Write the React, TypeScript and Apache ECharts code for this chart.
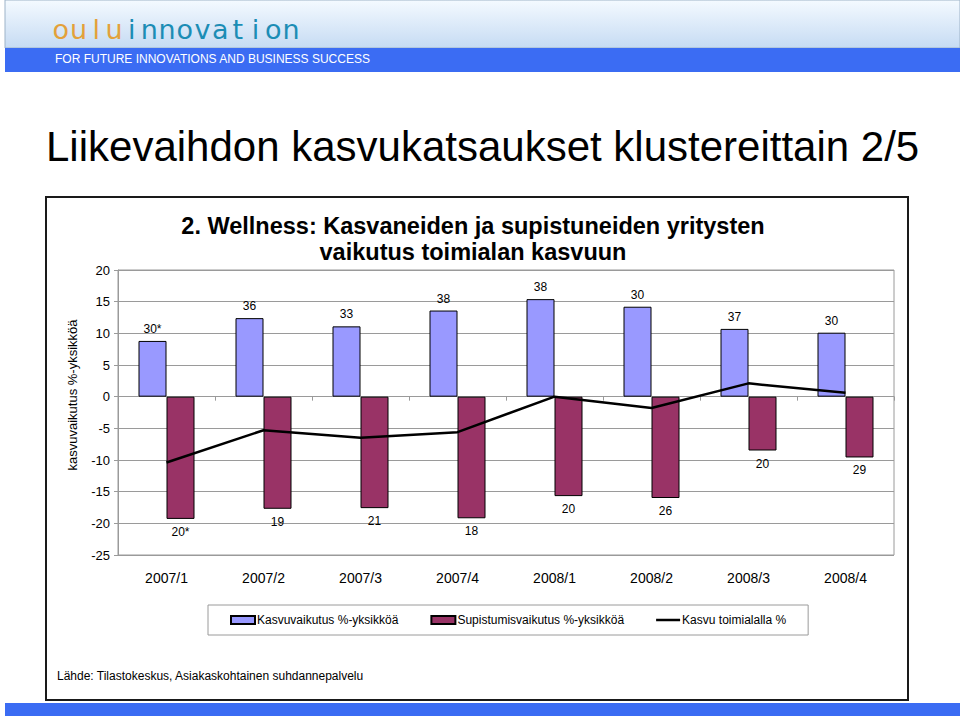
import React, { useEffect, useRef } from "react";
import * as echarts from "echarts";

const categories = ["2007/1", "2007/2", "2007/3", "2007/4", "2008/1", "2008/2", "2008/3", "2008/4"];
const kasvuvaikutus = [8.8, 12.4, 11.1, 13.6, 15.4, 14.2, 10.7, 10.1];
const kasvuLabels = ["30*", "36", "33", "38", "38", "30", "37", "30"];
const supistumisvaikutus = [-19.3, -17.7, -17.6, -19.2, -15.7, -16.0, -8.5, -9.6];
const supistumisLabels = ["20*", "19", "21", "18", "20", "26", "20", "29"];
const kasvuToimialalla = [-10.4, -5.3, -6.5, -5.6, 0.0, -1.8, 2.1, 0.6];
const yTicks = { min: -25, max: 20, interval: 5 };

const FONT = "Liberation Sans, Arial, sans-serif";
const logoChars = "ouluinnovation".split("");

export default function App() {
  const ref = useRef<HTMLDivElement>(null);
  useEffect(() => {
    if (!ref.current) return;
    const chart = echarts.init(ref.current, undefined, { renderer: "svg" });
    const logoEls = logoChars.map((c, i) => ({
      type: "text",
      x: 52 + 17.7 * i + 8.85,
      y: 29,
      style: {
        text: c,
        fill: i < 4 ? "#e3a13a" : "#1c8db5",
        font: `27px "DejaVu Sans", sans-serif`,
        textAlign: "center",
        textVerticalAlign: "middle",
      },
    }));
    chart.setOption({
      animation: false,
      backgroundColor: "#ffffff",
      textStyle: { fontFamily: FONT },
      graphic: [
        {
          type: "rect",
          shape: { x: 5, y: 0, width: 955, height: 48 },
          style: {
            fill: new echarts.graphic.LinearGradient(0, 0, 0, 1, [
              { offset: 0, color: "#f4faff" },
              { offset: 1, color: "#c6dbf3" },
            ]),
            stroke: "#9db3c8",
            lineWidth: 1,
          },
        },
        {
          type: "rect",
          shape: { x: 5, y: 48, width: 955, height: 24 },
          style: { fill: "#3b6cf3" },
        },
        ...logoEls,
        {
          type: "text",
          x: 55,
          y: 59,
          style: {
            text: "FOR FUTURE INNOVATIONS AND BUSINESS SUCCESS",
            fill: "#ffffff",
            font: `12px ${FONT}`,
            textVerticalAlign: "middle",
          },
        },
        {
          type: "text",
          x: 46,
          y: 146,
          style: {
            text: "Liikevaihdon kasvukatsaukset klustereittain 2/5",
            fill: "#000000",
            font: `42px ${FONT}`,
            textVerticalAlign: "middle",
          },
        },
        {
          type: "rect",
          shape: { x: 46, y: 197, width: 862, height: 503 },
          style: { fill: "none", stroke: "#1a1a1a", lineWidth: 2 },
        },
        {
          type: "text",
          x: 473,
          y: 226,
          style: {
            text: "2. Wellness: Kasvaneiden ja supistuneiden yritysten",
            fill: "#000",
            font: `bold 23.5px ${FONT}`,
            textAlign: "center",
            textVerticalAlign: "middle",
          },
        },
        {
          type: "text",
          x: 473,
          y: 252,
          style: {
            text: "vaikutus toimialan kasvuun",
            fill: "#000",
            font: `bold 23.5px ${FONT}`,
            textAlign: "center",
            textVerticalAlign: "middle",
          },
        },
        {
          type: "text",
          x: 72,
          y: 395,
          rotation: Math.PI / 2,
          style: {
            text: "kasvuvaikutus %-yksikköä",
            fill: "#000",
            font: `13px ${FONT}`,
            textAlign: "center",
            textVerticalAlign: "middle",
          },
        },
        {
          type: "text",
          x: 57,
          y: 676,
          style: {
            text: "Lähde: Tilastokeskus, Asiakaskohtainen suhdannepalvelu",
            fill: "#000",
            font: `12px ${FONT}`,
            textVerticalAlign: "middle",
          },
        },
        {
          type: "rect",
          shape: { x: 5, y: 703, width: 955, height: 13 },
          style: { fill: "#3b6cf3" },
        },
      ],
      grid: {
        left: 118,
        right: 66,
        top: 270,
        bottom: 161,
        show: true,
        borderColor: "#9a9a9a",
        borderWidth: 1,
        backgroundColor: "transparent",
      },
      legend: {
        left: 208,
        top: 605,
        padding: [9, 22],
        itemGap: 32,
        itemWidth: 24,
        itemHeight: 8,
        borderColor: "#9a9a9a",
        borderWidth: 1,
        textStyle: { fontSize: 12, color: "#000", fontFamily: FONT, padding: [0, 0, 0, -3] },
        data: [
          { name: "Kasvuvaikutus %-yksikköä", icon: "rect" },
          { name: "Supistumisvaikutus %-yksikköä", icon: "rect" },
          {
            name: "Kasvu toimialalla %",
            icon: "path://M0,0 L24,0 L24,2.5 L0,2.5 Z",
            itemStyle: { color: "#000", borderWidth: 0 },
          },
        ],
      },
      xAxis: [
        {
          type: "category",
          data: categories,
          position: "bottom",
          axisLine: { onZero: true, lineStyle: { color: "#9a9a9a", width: 1 } },
          axisTick: { show: true, length: 4, lineStyle: { color: "#9a9a9a" } },
          axisLabel: { show: false },
          splitLine: { show: false },
        },
        {
          type: "category",
          data: categories,
          position: "bottom",
          axisLine: { show: false, onZero: false },
          axisTick: { show: false },
          axisLabel: { show: true, margin: 16, fontSize: 14, color: "#000", fontFamily: FONT },
          splitLine: { show: false },
        },
      ],
      yAxis: {
        type: "value",
        min: yTicks.min,
        max: yTicks.max,
        interval: yTicks.interval,
        axisLine: { show: true, onZero: false, lineStyle: { color: "#9a9a9a" } },
        axisTick: { show: true, length: 4, lineStyle: { color: "#9a9a9a" } },
        axisLabel: { fontSize: 13, color: "#000", margin: 8, fontFamily: FONT },
        splitLine: { show: true, lineStyle: { color: "#9a9a9a", width: 1 } },
      },
      series: [
        {
          name: "Kasvuvaikutus %-yksikköä",
          type: "bar",
          xAxisIndex: 0,
          data: kasvuvaikutus,
          barWidth: 28,
          barGap: "0%",
          itemStyle: { color: "#9999ff", borderColor: "#000", borderWidth: 1 },
          label: {
            show: true,
            position: "top",
            distance: 6,
            fontSize: 12,
            color: "#000",
            fontFamily: FONT,
            formatter: (p: any) => kasvuLabels[p.dataIndex],
          },
        },
        {
          name: "Supistumisvaikutus %-yksikköä",
          type: "bar",
          xAxisIndex: 0,
          data: supistumisvaikutus,
          barWidth: 28,
          barGap: "0%",
          itemStyle: { color: "#993366", borderColor: "#000", borderWidth: 1 },
          label: {
            show: true,
            position: "bottom",
            distance: 7,
            fontSize: 12,
            color: "#000",
            fontFamily: FONT,
            formatter: (p: any) => supistumisLabels[p.dataIndex],
          },
        },
        {
          name: "Kasvu toimialalla %",
          type: "line",
          xAxisIndex: 0,
          data: kasvuToimialalla,
          symbol: "none",
          z: 5,
          lineStyle: { color: "#000", width: 2.5 },
          itemStyle: { color: "#000" },
        },
      ],
    });
    return () => chart.dispose();
  }, []);
  return (
    <div
      ref={ref}
      style={{ position: "fixed", left: 0, top: 0, width: 960, height: 716 }}
    />
  );
}
